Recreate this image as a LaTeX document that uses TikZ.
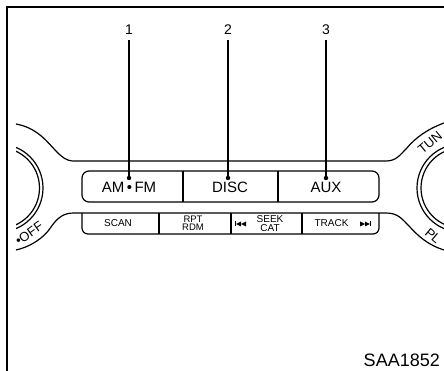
\documentclass[tikz,border=0pt]{standalone}
\usepackage{fontspec}
\setmainfont{Liberation Sans}
\usetikzlibrary{positioning, calc}

\begin{document}
\begin{tikzpicture}[
        x=1pt, y=-1pt,
        panel/.style={line width=1.2pt},
        leader/.style={line width=1.1pt},
        frameline/.style={line width=2pt},
        callout/.style={font=\fontsize{14}{14}\selectfont, inner sep=5pt},
        pindot/.style={circle, fill=black, inner sep=0pt, minimum size=4.5pt},
        bigkey/.style={font=\fontsize{15}{15}\selectfont, inner sep=0pt},
        smallkey/.style={font=\fontsize{#1}{8.5}\selectfont, inner sep=0pt, align=center},
        smallkey/.default=10,
        dial/.style={font=\fontsize{13}{13}\selectfont, inner sep=0pt},
        skipmark/.pic={
            \fill (-6,-2.5) rectangle (-4.8,2.5);
            \fill (-4.8,0) -- (0,-2.5) -- (0,2.5) -- cycle;
            \fill (0,0) -- (5,-2.5) -- (5,2.5) -- cycle;
        },
    ]
    \clip (0,0) rectangle (444,371);

    % Frame
    \draw[frameline] (6.5,371) -- (6.5,7) -- (444,7);

    % Faceplate outline
    \draw[panel] (16,124) .. controls (38,128) and (48,143) .. (56,151) .. controls (62,157) and (66,161) .. (74,161) -- (386,161) .. controls (396,161) and (400,155) .. (406,149) .. controls (416,137) and (428,129) .. (444,123);
    \draw[panel] (16,250) .. controls (30,247) and (44,238) .. (51,227) .. controls (58,217) and (64,213) .. (74,213) -- (386,213) .. controls (398,213) and (402,219) .. (409,226) .. controls (418,236) and (428,245) .. (444,250);

    % Left dial
    \begin{scope}
        \clip (16,100) rectangle (60,280);
        \draw[panel] (-1,188) circle [radius=44];
        \draw[panel] (-1,188) circle [radius=40.5];
    \end{scope}

    % Right dial
    \draw[panel] (461,188) circle [radius=44];
    \draw[panel] (461,188) circle [radius=40];

    % Dial texts
    \node[dial, rotate=35] (off) at (29,233.5) {•OFF};
    \node[dial, rotate=40] (tun) at (430,143) {TUN};
    \node[dial, rotate=-40] (pl) at (433,236) {PL};

    % Upper key row
    \draw[panel, rounded corners=7pt] (82,171) rectangle (379,202);
    \draw[panel] (183,171) -- (183,202);
    \draw[panel] (278,171) -- (278,202);
    \node[bigkey] (amfm) at (129,187) {AM\,•\,FM};
    \node[bigkey] (disc) at (230,187) {DISC};
    \node[bigkey] (aux) at (326,187) {AUX};

    % Lower key row
    \draw[panel, rounded corners=6pt] (82,213) -- (82,234) -- (379,234) -- (379,213);
    \draw[panel] (159,213) -- (159,234);
    \draw[panel] (231,213) -- (231,234);
    \draw[panel] (302,213) -- (302,234);
    \node[smallkey] (scan) at (118,223) {SCAN};
    \node[smallkey=9.5] (rpt) at (193,223) {RPT\\RDM};
    \node[smallkey] (seek) at (270,223.5) {SEEK\\CAT};
    \node[smallkey] (track) at (331.5,223) {TRACK};
    \pic at (241,224) {skipmark};
    \pic[xscale=-1] at (365,224) {skipmark};

    % Callouts
    \node[callout] (n1) at (129,30) {1};
    \node[callout] (n2) at (228,30) {2};
    \node[callout] (n3) at (326,30) {3};
    \node[pindot] (d1) at (129,178) {};
    \node[pindot] (d2) at (228,178) {};
    \node[pindot] (d3) at (326,178) {};
    \draw[leader] (n1) -- (d1);
    \draw[leader] (n2) -- (d2);
    \draw[leader] (n3) -- (d3);

    % Figure code
    \node[font=\fontsize{18}{18}\selectfont, inner sep=0pt, anchor=east] (code) at (440,360) {SAA1852};
\end{tikzpicture}
\end{document}
